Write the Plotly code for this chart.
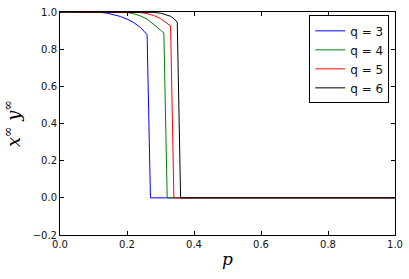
import plotly.graph_objects as go

# Data
p_q3 = [0.0, 0.10, 0.12, 0.14, 0.16, 0.18, 0.20, 0.22, 0.24, 0.25, 0.26, 0.27, 1.0]
v_q3 = [1.0, 1.0, 0.998, 0.994, 0.987, 0.976, 0.962, 0.943, 0.917, 0.900, 0.878, 0.0, 0.0]

p_q4 = [0.0, 0.18, 0.20, 0.22, 0.24, 0.26, 0.28, 0.29, 0.30, 0.31, 0.32, 1.0]
v_q4 = [1.0, 1.0, 0.997, 0.991, 0.979, 0.962, 0.935, 0.918, 0.902, 0.887, 0.0, 0.0]

p_q5 = [0.0, 0.22, 0.24, 0.26, 0.28, 0.30, 0.31, 0.32, 0.33, 0.34, 1.0]
v_q5 = [1.0, 1.0, 0.997, 0.991, 0.981, 0.965, 0.953, 0.938, 0.925, 0.0, 0.0]

p_q6 = [0.0, 0.26, 0.28, 0.30, 0.32, 0.33, 0.34, 0.35, 0.36, 1.0]
v_q6 = [1.0, 1.0, 0.998, 0.994, 0.985, 0.977, 0.964, 0.945, 0.0, 0.0]

series = [
    ("q = 3", p_q3, v_q3, "#0000ff"),
    ("q = 4", p_q4, v_q4, "#008000"),
    ("q = 5", p_q5, v_q5, "#ff0000"),
    ("q = 6", p_q6, v_q6, "#000000"),
]

x_ticks = [0.0, 0.2, 0.4, 0.6, 0.8, 1.0]
y_ticks = [-0.2, 0.0, 0.2, 0.4, 0.6, 0.8, 1.0]

fig = go.Figure()
for name, px, py, col in series:
    fig.add_trace(go.Scatter(x=px, y=py, mode="lines", name=name,
                             line=dict(color=col, width=1)))

axis_common = dict(
    showgrid=False, zeroline=False, showline=True, linecolor="black",
    linewidth=1, mirror="allticks", ticks="inside", ticklen=4,
    tickcolor="black", tickwidth=1,
    tickfont=dict(family="DejaVu Sans", size=10, color="#111"),
    tickformat=".1f", automargin=False,
)
fig.update_xaxes(range=[0, 1], tickvals=x_ticks, **axis_common,
                 title=dict(text="<i>p</i>", standoff=4,
                            font=dict(family="DejaVu Serif", size=17, color="black")))
fig.update_yaxes(range=[-0.2, 1.0], tickvals=y_ticks, **axis_common,
                 title=dict(text="<i>x</i><sup>∞</sup> <i>y</i><sup>∞</sup>", standoff=8,
                            font=dict(family="DejaVu Serif", size=18, color="black")))

fig.update_layout(
    width=409, height=279,
    margin=dict(l=60, r=14, t=12, b=44, autoexpand=False),
    paper_bgcolor="white", plot_bgcolor="white",
    showlegend=True,
    legend=dict(x=0.983, y=0.985, xanchor="right", yanchor="top",
                bordercolor="black", borderwidth=1, bgcolor="white",
                font=dict(family="DejaVu Sans", size=12, color="#111"),
                tracegroupgap=0),
)

fig.write_html("out.html", config={"displayModeBar": False},
               post_script="document.body.style.margin='0';")
